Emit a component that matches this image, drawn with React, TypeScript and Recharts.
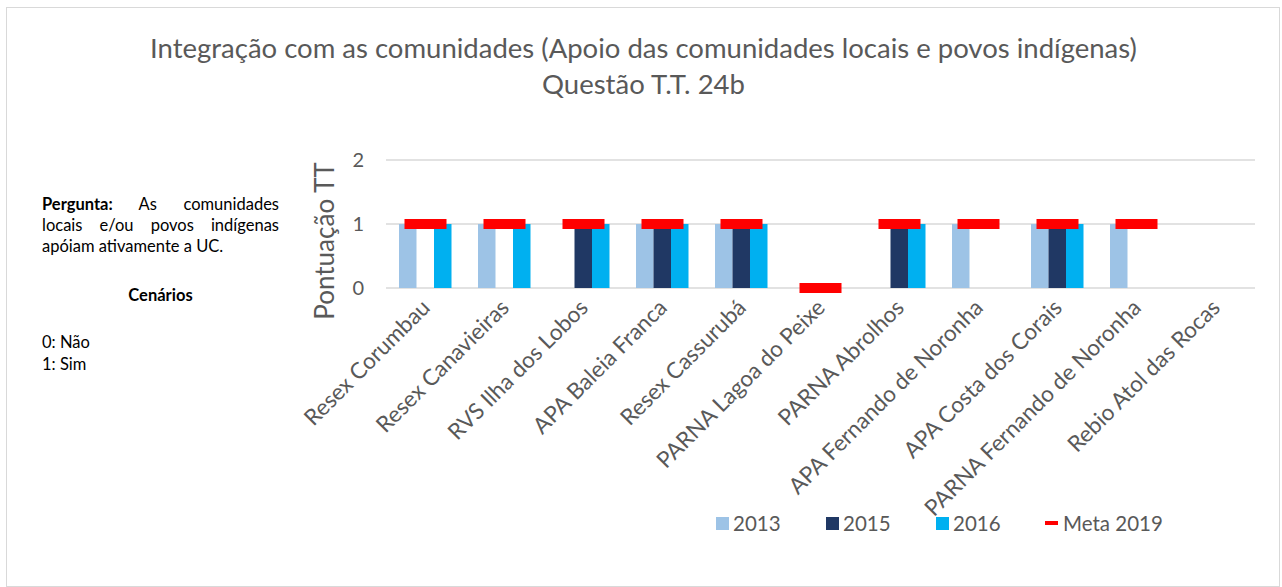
import React from "react";
import { ComposedChart, Bar, Line, XAxis, YAxis, CartesianGrid } from "recharts";

const categories = [
  "Resex Corumbau",
  "Resex Canavieiras",
  "RVS Ilha dos Lobos",
  "APA Baleia Franca",
  "Resex Cassurubá",
  "PARNA Lagoa do Peixe",
  "PARNA Abrolhos",
  "APA Fernando de Noronha",
  "APA Costa dos Corais",
  "PARNA Fernando de Noronha",
  "Rebio Atol das Rocas",
];
const v2013 = [1, 1, 0, 1, 1, 0, 0, 1, 1, 1, 0];
const v2015 = [0, 0, 1, 1, 1, 0, 1, 0, 1, 0, 0];
const v2016 = [1, 1, 1, 1, 1, 0, 1, 0, 1, 0, 0];
const meta2019: (number | null)[] = [1, 1, 1, 1, 1, 0, 1, 1, 1, 1, null];
const yTicks = [0, 1, 2];

const data = categories.map((name, i) => ({
  name,
  y2013: v2013[i],
  y2015: v2015[i],
  y2016: v2016[i],
  meta: meta2019[i],
}));

const FONT = "Lato, 'Open Sans', sans-serif";
const TEXT = "#595959";
const C2013 = "#9DC3E6";
const C2015 = "#203864";
const C2016 = "#00B0F0";
const RED = "#FF0000";

const XTick = (props: any) => {
  const { x, y, payload } = props;
  const px = x + 6;
  const py = y + 13;
  return (
    <text
      x={px}
      y={py}
      transform={`rotate(-45 ${px} ${py})`}
      textAnchor="end"
      fill={TEXT}
      fontSize={22.5}
      fontFamily={FONT}
    >
      {payload.value}
    </text>
  );
};

const YTick = (props: any) => {
  const { y, payload } = props;
  return (
    <text x={364} y={y} dy={7} textAnchor="end" fill={TEXT} fontSize={20} fontFamily={FONT}>
      {payload.value}
    </text>
  );
};

const YTitle = () => (
  <text
    x={334}
    y={241}
    transform="rotate(-90 334 241)"
    textAnchor="middle"
    fill={TEXT}
    fontSize={26}
    fontFamily={FONT}
  >
    Pontuação TT
  </text>
);

const MetaDot = (props: any) => {
  const { cx, cy, value } = props;
  if (value === null || value === undefined || cx == null || cy == null) return <g />;
  return <rect x={cx - 21} y={cy - 5} width={42} height={10} fill={RED} />;
};

const legendItems = [
  { label: "2013", color: C2013, left: 716 },
  { label: "2015", color: C2015, left: 826 },
  { label: "2016", color: C2016, left: 936 },
];

export default function App() {
  return (
    <div style={{ position: "absolute", left: 0, top: 0, width: 1282, height: 587, background: "#fff", fontFamily: FONT }}>
      <div
        style={{
          position: "absolute",
          left: 6,
          top: 7,
          width: 1274,
          height: 580,
          border: "1px solid #d9d9d9",
          boxSizing: "border-box",
        }}
      />
      <div
        style={{
          position: "absolute",
          left: 0,
          top: 30,
          width: 1287,
          textAlign: "center",
          color: TEXT,
          fontSize: 27.5,
          lineHeight: "36px",
        }}
      >
        <div>Integração com as comunidades (Apoio das comunidades locais e povos indígenas)</div>
        <div>Questão T.T. 24b</div>
      </div>

      <div
        style={{
          position: "absolute",
          left: 42,
          top: 194,
          width: 237,
          fontSize: 16.5,
          lineHeight: "21px",
          color: "#000",
          textAlign: "justify",
        }}
      >
        <b>Pergunta:</b> As comunidades locais e/ou povos indígenas apóiam ativamente a UC.
      </div>
      <div
        style={{
          position: "absolute",
          left: 42,
          top: 285,
          width: 237,
          fontSize: 16.5,
          lineHeight: "21px",
          color: "#000",
          textAlign: "center",
          fontWeight: "bold",
        }}
      >
        Cenários
      </div>
      <div
        style={{
          position: "absolute",
          left: 42,
          top: 331,
          fontSize: 16.5,
          lineHeight: "22px",
          color: "#000",
        }}
      >
        <div>0: Não</div>
        <div>1: Sim</div>
      </div>

      <div style={{ position: "absolute", left: 0, top: 0 }}>
        <ComposedChart
          width={1282}
          height={587}
          data={data}
          margin={{ top: 160, right: 27, bottom: 69, left: 326 }}
          barGap={0}
        >
          <CartesianGrid vertical={false} stroke="#d9d9d9" strokeWidth={1.5} />
          <XAxis
            dataKey="name"
            height={230}
            axisLine={false}
            tickLine={false}
            interval={0}
            tick={<XTick />}
          />
          <YAxis
            width={60}
            domain={[0, 2]}
            ticks={yTicks}
            axisLine={false}
            tickLine={false}
            tick={<YTick />}
            label={<YTitle />}
          />
          <Bar dataKey="y2013" fill={C2013} barSize={17.5} isAnimationActive={false} />
          <Bar dataKey="y2015" fill={C2015} barSize={17.5} isAnimationActive={false} />
          <Bar dataKey="y2016" fill={C2016} barSize={17.5} isAnimationActive={false} />
          <Line
            dataKey="meta"
            stroke="none"
            dot={<MetaDot />}
            activeDot={false}
            connectNulls={false}
            isAnimationActive={false}
          />
        </ComposedChart>
      </div>

      {legendItems.map((it) => (
        <div key={it.label} style={{ position: "absolute", left: it.left, top: 510, height: 26, display: "flex", alignItems: "center" }}>
          <div style={{ width: 13, height: 13, background: it.color }} />
          <span style={{ marginLeft: 4, fontSize: 20.5, color: TEXT }}>{it.label}</span>
        </div>
      ))}
      <div style={{ position: "absolute", left: 1045, top: 510, height: 26, display: "flex", alignItems: "center" }}>
        <div style={{ width: 13, height: 4, background: RED }} />
        <span style={{ marginLeft: 5, fontSize: 20.5, color: TEXT }}>Meta 2019</span>
      </div>
    </div>
  );
}
